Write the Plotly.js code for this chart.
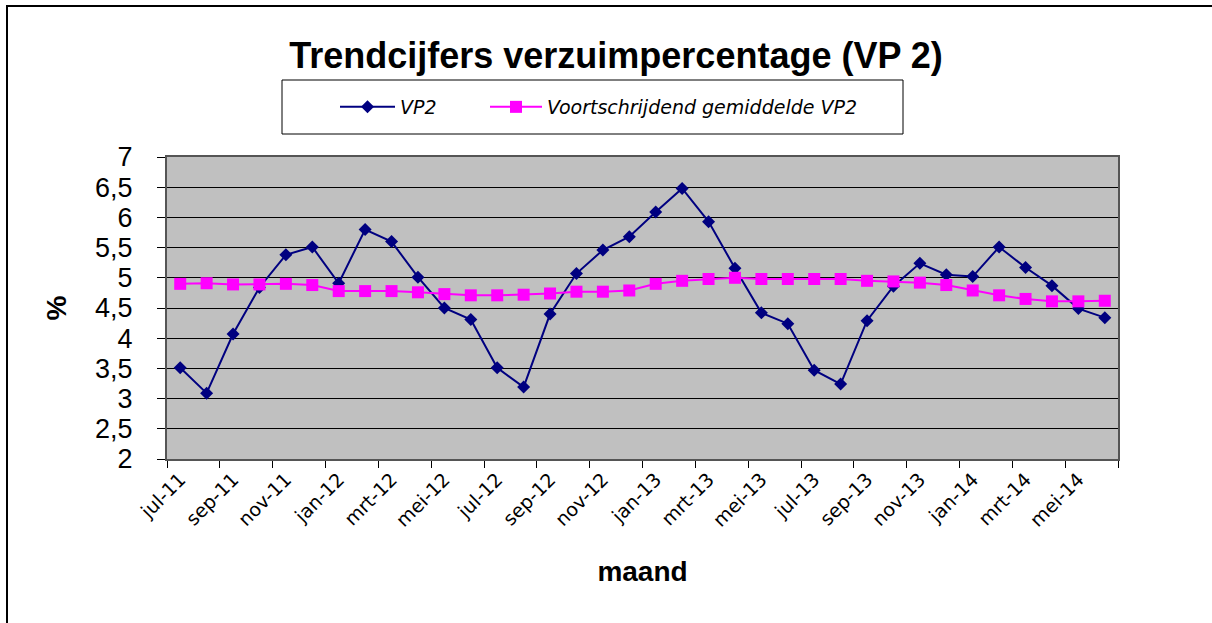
<!DOCTYPE html>
<html>
<head>
<meta charset="utf-8">
<script src="https://cdn.plot.ly/plotly-3.0.1.min.js"></script>
<style>
  html, body { margin: 0; padding: 0; background: #fff; }
  #wrap { position: relative; width: 1212px; height: 623px; overflow: hidden; }
  #chart { width: 1212px; height: 623px; }
  #frame { position: absolute; left: 6px; top: 5px; width: 1300px; height: 700px;
           border-top: 2px solid #000; border-left: 2px solid #000; pointer-events: none; }
</style>
</head>
<body>
<div id="wrap">
  <div id="chart"></div>
  <div id="frame"></div>
</div>
<script>
// Categories (months, Dutch abbreviations)
const months = [
  'jul-11','aug-11','sep-11','okt-11','nov-11','dec-11',
  'jan-12','feb-12','mrt-12','apr-12','mei-12','jun-12',
  'jul-12','aug-12','sep-12','okt-12','nov-12','dec-12',
  'jan-13','feb-13','mrt-13','apr-13','mei-13','jun-13',
  'jul-13','aug-13','sep-13','okt-13','nov-13','dec-13',
  'jan-14','feb-14','mrt-14','apr-14','mei-14','jun-14'
];

// Series: VP2 monthly absence percentage
const vp2 = [
  3.51, 3.09, 4.07, 4.84, 5.38, 5.51,
  4.91, 5.80, 5.60, 5.01, 4.50, 4.31,
  3.51, 3.19, 4.40, 5.07, 5.46, 5.68,
  6.09, 6.48, 5.93, 5.16, 4.42, 4.24,
  3.47, 3.24, 4.29, 4.86, 5.24, 5.05,
  5.02, 5.51, 5.17, 4.87, 4.49, 4.34
];

// Series: moving average VP2
const movingAvg = [
  4.90, 4.91, 4.89, 4.89, 4.90, 4.88,
  4.78, 4.78, 4.78, 4.76, 4.73, 4.71,
  4.71, 4.72, 4.74, 4.77, 4.77, 4.79,
  4.90, 4.95, 4.98, 5.00, 4.98, 4.98,
  4.98, 4.98, 4.95, 4.94, 4.92, 4.88,
  4.79, 4.71, 4.65, 4.61, 4.61, 4.62
];

const seriesNames = ['VP2', 'Voortschrijdend gemiddelde VP2'];

// Layout geometry (pixels)
const W = 1212, H = 623;
const plotL = 167, plotR = 1118, plotT = 157, plotB = 459;
const pw = plotR - plotL, ph = plotB - plotT;
const px = v => (v - plotL) / pw;
const py = v => (plotB - v) / ph;

const legendFont = { family: 'DejaVu Sans, Verdana, sans-serif', size: 19, color: '#000', style: 'italic' };

const traces = [
  {
    x: months, y: vp2, name: seriesNames[0], type: 'scatter', mode: 'lines+markers',
    line: { color: '#000080', width: 2 },
    marker: { symbol: 'diamond', size: 10, color: '#000080' },
    legend: 'legend'
  },
  {
    x: months, y: movingAvg, name: seriesNames[1], type: 'scatter', mode: 'lines+markers',
    line: { color: '#FF00FF', width: 2 },
    marker: { symbol: 'square', size: 12, color: '#FF00FF' },
    legend: 'legend2'
  }
];

const layout = {
  width: W, height: H,
  margin: { l: plotL, r: W - plotR, t: plotT, b: H - plotB, pad: 0 },
  paper_bgcolor: '#ffffff',
  plot_bgcolor: '#C0C0C0',
  separators: ',.',
  showlegend: true,
  title: {
    text: '<b>Trendcijfers verzuimpercentage (VP 2)</b>',
    font: { family: 'Liberation Sans, Arial, sans-serif', size: 36, color: '#000' },
    x: 616 / W, xanchor: 'center', xref: 'container',
    y: 1 - 55 / H, yanchor: 'middle', yref: 'container'
  },
  legend: {
    orientation: 'h',
    x: px(335), xanchor: 'left',
    y: py(107), yanchor: 'middle',
    bgcolor: 'rgba(0,0,0,0)', borderwidth: 0,
    itemwidth: 55,
    font: legendFont,
    itemclick: false
  },
  legend2: {
    orientation: 'h',
    x: px(485), xanchor: 'left',
    y: py(107), yanchor: 'middle',
    bgcolor: 'rgba(0,0,0,0)', borderwidth: 0,
    itemwidth: 52,
    font: legendFont,
    itemclick: false
  },
  xaxis: {
    type: 'category',
    categoryorder: 'array', categoryarray: months,
    range: [-0.5, months.length - 0.5],
    tickmode: 'linear', tick0: 0, dtick: 2,
    tickson: 'boundaries',
    ticks: 'outside', ticklen: 7, tickwidth: 1, tickcolor: '#000',
    tickangle: -45,
    tickfont: { family: 'DejaVu Sans, Verdana, sans-serif', size: 19, color: '#000' },
    showgrid: false, zeroline: false,
    showline: true, linecolor: '#555', linewidth: 2, mirror: true,
    title: {
      text: '<b>maand</b>',
      font: { family: 'Liberation Sans, Arial, sans-serif', size: 28, color: '#000' },
      standoff: 32
    }
  },
  yaxis: {
    range: [2, 7], tickmode: 'linear', tick0: 2, dtick: 0.5,
    ticks: 'outside', ticklen: 8, tickwidth: 1, tickcolor: '#000',
    ticklabelposition: 'outside',
    ticklabelstandoff: 19,
    tickfont: { family: 'Liberation Sans, Arial, sans-serif', size: 27, color: '#000' },
    showgrid: true, gridcolor: '#000', gridwidth: 1,
    zeroline: false,
    showline: true, linecolor: '#555', linewidth: 2, mirror: true,
    title: {
      text: '<b>%</b>',
      font: { family: 'Liberation Sans, Arial, sans-serif', size: 28, color: '#000' },
      standoff: 20
    }
  },
  shapes: [
    { type: 'rect', xref: 'paper', yref: 'paper',
      x0: px(282), x1: px(903), y0: py(134), y1: py(80),
      line: { color: '#000', width: 1 }, fillcolor: 'rgba(0,0,0,0)', layer: 'below' }
  ]
};

Plotly.newPlot('chart', traces, layout, { displayModeBar: false, staticPlot: true });
</script>
</body>
</html>
